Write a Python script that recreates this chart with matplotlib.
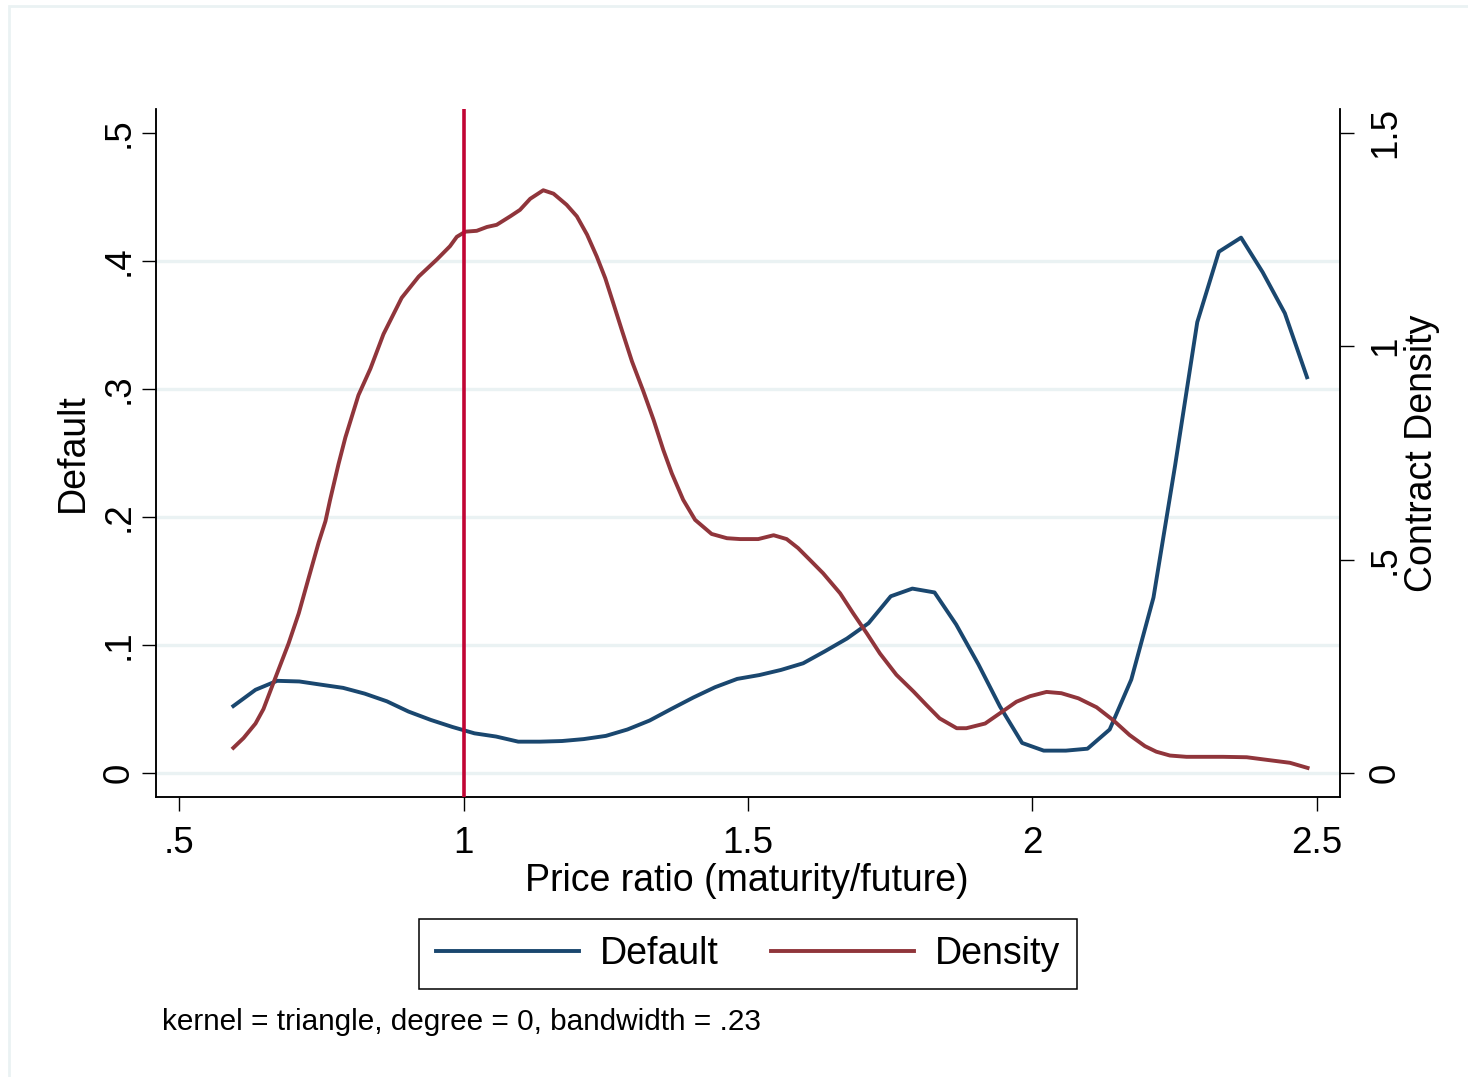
import matplotlib
matplotlib.use("Agg")
import matplotlib.pyplot as plt
from matplotlib.patches import Rectangle

plt.rcParams['font.family'] = ['Liberation Sans', 'DejaVu Sans']

# local polynomial smooth of default (50 grid points)
default_x = [0.595, 0.634, 0.672, 0.711, 0.749, 0.788, 0.826, 0.865, 0.903, 0.942,
             0.980, 1.019, 1.057, 1.096, 1.134, 1.173, 1.211, 1.250, 1.288, 1.327,
             1.365, 1.404, 1.442, 1.481, 1.520, 1.558, 1.597, 1.635, 1.674, 1.712,
             1.751, 1.789, 1.828, 1.866, 1.905, 1.943, 1.982, 2.020, 2.059, 2.097,
             2.136, 2.174, 2.213, 2.251, 2.290, 2.328, 2.367, 2.405, 2.444, 2.483]
default_y = [0.0523, 0.065, 0.072, 0.0715, 0.069, 0.0665, 0.062, 0.056, 0.048, 0.0415,
             0.036, 0.031, 0.0285, 0.0245, 0.0245, 0.025, 0.0265, 0.029, 0.034, 0.041,
             0.050, 0.059, 0.067, 0.0735, 0.0765, 0.0805, 0.0857, 0.095, 0.105, 0.117,
             0.138, 0.144, 0.141, 0.116, 0.085, 0.052, 0.0235, 0.0175, 0.0175, 0.019,
             0.034, 0.073, 0.137, 0.240, 0.352, 0.407, 0.418, 0.391, 0.359, 0.309]

# kernel density of contracts
density_x = [0.595, 0.613, 0.634, 0.648, 0.666, 0.692, 0.710, 0.727, 0.745, 0.757,
             0.765, 0.780, 0.792, 0.815, 0.836, 0.859, 0.891, 0.921, 0.953, 0.976,
             0.988, 1.003, 1.023, 1.041, 1.058, 1.082, 1.099, 1.117, 1.140, 1.158,
             1.181, 1.199, 1.217, 1.234, 1.249, 1.263, 1.278, 1.296, 1.316, 1.334,
             1.351, 1.366, 1.386, 1.407, 1.436, 1.463, 1.486, 1.518, 1.545, 1.568,
             1.588, 1.609, 1.632, 1.662, 1.685, 1.709, 1.732, 1.761, 1.791, 1.814,
             1.837, 1.867, 1.884, 1.917, 1.943, 1.972, 1.996, 2.025, 2.051, 2.081,
             2.113, 2.142, 2.171, 2.198, 2.218, 2.242, 2.271, 2.335, 2.377, 2.406,
             2.453, 2.484]
density_y = [0.059, 0.082, 0.116, 0.150, 0.213, 0.303, 0.374, 0.455, 0.540, 0.590,
             0.639, 0.724, 0.786, 0.885, 0.947, 1.028, 1.113, 1.163, 1.203, 1.234,
             1.256, 1.268, 1.270, 1.279, 1.284, 1.304, 1.319, 1.345, 1.365, 1.357,
             1.331, 1.304, 1.261, 1.210, 1.159, 1.101, 1.038, 0.964, 0.894, 0.827,
             0.757, 0.702, 0.640, 0.593, 0.560, 0.550, 0.548, 0.548, 0.557, 0.548,
             0.527, 0.499, 0.468, 0.421, 0.374, 0.327, 0.280, 0.230, 0.191, 0.159,
             0.128, 0.105, 0.105, 0.116, 0.140, 0.167, 0.180, 0.190, 0.187, 0.175,
             0.154, 0.124, 0.089, 0.063, 0.050, 0.041, 0.038, 0.038, 0.037, 0.032,
             0.024, 0.012]

x_ticks = [0.5, 1, 1.5, 2, 2.5]
x_ticklabels = ['.5', '1', '1.5', '2', '2.5']
left_ticks = [0, 0.1, 0.2, 0.3, 0.4, 0.5]
left_ticklabels = ['0', '.1', '.2', '.3', '.4', '.5']
right_ticks = [0, 0.5, 1, 1.5]
right_ticklabels = ['0', '.5', '1', '1.5']

blue = '#1a476f'
maroon = '#90353b'
crimson = '#c10534'
gridc = '#eaf2f3'

W, H = 1468, 1077
fig = plt.figure(figsize=(W / 100, H / 100), dpi=100)
fig.patches.append(Rectangle((9 / W, -0.1), 1.2, 1 - 6 / H + 0.1, transform=fig.transFigure,
                             fill=False, edgecolor=gridc, linewidth=2))

x0, x1, y0, y1 = 156, 1340, 109.3, 796.7
ax = fig.add_axes([x0 / W, 1 - y1 / H, (x1 - x0) / W, (y1 - y0) / H])
ax2 = ax.twinx()

for y in left_ticks[:-1]:
    ax.axhline(y, color=gridc, linewidth=2.4, zorder=0)

ax.plot(default_x, default_y, color=blue, linewidth=2.8, label='Default', zorder=3)
ax2.plot(density_x, density_y, color=maroon, linewidth=2.8, label='Density', zorder=3)
ax2.axvline(1, color=crimson, linewidth=2.6, zorder=4)

ax.set_xlim(0.459, 2.541)
ax.set_ylim(-0.01847, 0.5182)
ax2.set_ylim(-0.01847 * 3, 0.5182 * 3)

ax.set_xticks(x_ticks)
ax.set_xticklabels(x_ticklabels)
ax.set_yticks(left_ticks)
ax.set_yticklabels(left_ticklabels, rotation=90, va='center')
ax2.set_yticks(right_ticks)
ax2.set_yticklabels(right_ticklabels, rotation=90, va='center')

ax.tick_params(axis='x', length=10, width=1, labelsize=26.5, pad=11)
ax.tick_params(axis='y', length=10, width=1, labelsize=26.5, pad=4)
ax2.tick_params(axis='y', length=10, width=1, labelsize=26.5, pad=10)

for a in (ax, ax2):
    a.spines['top'].set_visible(False)
    for s in ('left', 'right', 'bottom'):
        a.spines[s].set_linewidth(1.1)

ax.set_xlabel('Price ratio (maturity/future)', fontsize=27)
ax.xaxis.set_label_coords(0.4987, -0.0964)
ax.set_ylabel('Default', fontsize=27)
ax.yaxis.set_label_coords(-0.0549, 0.5)
ax2.set_ylabel('Contract Density', fontsize=27)
ax2.yaxis.set_label_coords(1.054, 0.5)

h1, l1 = ax.get_legend_handles_labels()
h2, l2 = ax2.get_legend_handles_labels()
leg = fig.legend(h1 + h2, l1 + l2, loc='center', ncol=2,
                 bbox_to_anchor=(748 / W, 1 - 954 / H), fontsize=27,
                 handlelength=3.8, handletextpad=0.56, columnspacing=1.41,
                 borderpad=0.45, fancybox=False, framealpha=1, edgecolor='black')
leg.get_frame().set_linewidth(1.1)

fig.text(162 / W, 1 - 1022 / H, 'kernel = triangle, degree = 0, bandwidth = .23',
         fontsize=21.4, ha='left', va='center')

fig.savefig('out.png', dpi=100)
